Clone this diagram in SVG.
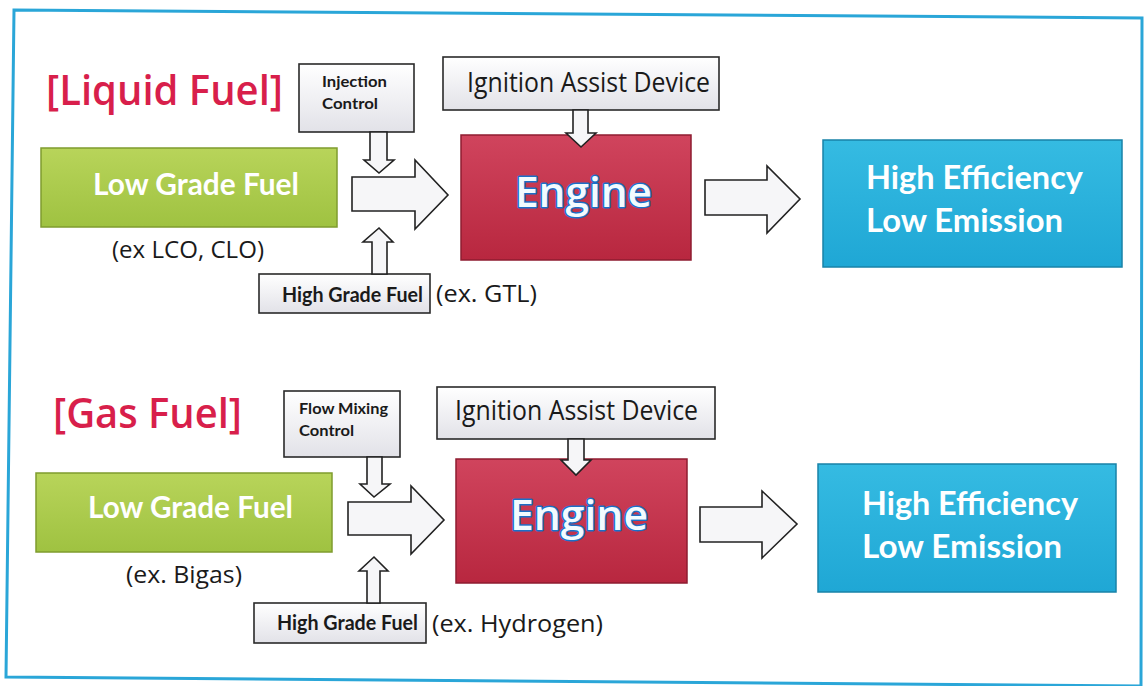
<svg xmlns="http://www.w3.org/2000/svg" width="1145" height="686" viewBox="0 0 1145 686">
<defs>
<linearGradient id="gGreen" x1="0" y1="0" x2="0" y2="1"><stop offset="0" stop-color="#b8d45a"/><stop offset="1" stop-color="#9fc241"/></linearGradient>
<linearGradient id="gRed" x1="0" y1="0" x2="0" y2="1"><stop offset="0" stop-color="#d0445d"/><stop offset="1" stop-color="#b8273f"/></linearGradient>
<linearGradient id="gBlue" x1="0" y1="0" x2="0" y2="1"><stop offset="0" stop-color="#35bbe2"/><stop offset="1" stop-color="#1fa7d5"/></linearGradient>
<linearGradient id="gGrey" x1="0" y1="0" x2="0" y2="1"><stop offset="0" stop-color="#ffffff"/><stop offset="1" stop-color="#e2e2e8"/></linearGradient>
</defs>
<style>
.lbox{fill:url(#gGrey);stroke:#2a2a2a;stroke-width:1.6}
.green{fill:url(#gGreen);stroke:#7f9c2e;stroke-width:1.5}
.red{fill:url(#gRed);stroke:#8e1c30;stroke-width:1.5}
.blue{fill:url(#gBlue);stroke:#1883a8;stroke-width:1.5}
.arr{fill:#f6f6f8;stroke:#222;stroke-width:1.6;stroke-linejoin:miter}
.title{font-family:"Open Sans",Lato,sans-serif;font-weight:600;font-size:41px;fill:#d81f4b}
.wb{font-family:Lato,"Open Sans",sans-serif;font-weight:bold;fill:#ffffff}
.dk{font-family:"Open Sans",Lato,sans-serif;fill:#1a1a1a}
.dkb{font-family:Lato,"Open Sans",sans-serif;font-weight:bold;fill:#1a1a1a}
.eng{font-family:"Open Sans",Lato,sans-serif;font-weight:600;font-size:42px;fill:#f2fbff;stroke:#1b6fc6;stroke-width:3;paint-order:stroke;stroke-linejoin:round}
</style>
<rect width="1145" height="686" fill="#ffffff"/>
<polygon points="14,10 1142,18 1141,686 6,677" fill="none" stroke="#2aa6d8" stroke-width="3"/>

<!-- Liquid fuel section -->
<text x="46" y="105" class="title" textLength="237" lengthAdjust="spacingAndGlyphs">[Liquid Fuel]</text>

<g id="lf-low">
<rect x="41" y="148" width="296" height="79" class="green"/>
<text x="93" y="195" class="wb" font-size="30" textLength="206" lengthAdjust="spacingAndGlyphs">Low Grade Fuel</text>
</g>
<text x="112" y="258" class="dk" font-size="23" textLength="152" lengthAdjust="spacingAndGlyphs">(ex LCO, CLO)</text>

<g id="lf-injection">
<rect x="299" y="64" width="115" height="68" class="lbox"/>
<text x="322" y="87" class="dkb" font-size="16" textLength="65" lengthAdjust="spacingAndGlyphs">Injection</text>
<text x="322" y="109" class="dkb" font-size="16" textLength="56" lengthAdjust="spacingAndGlyphs">Control</text>
</g>

<g id="lf-high">
<rect x="259" y="274" width="171" height="39" class="lbox"/>
<text x="282" y="302" class="dkb" font-size="20" textLength="141" lengthAdjust="spacingAndGlyphs">High Grade Fuel</text>
</g>
<text x="436" y="302" class="dk" font-size="23" textLength="101" lengthAdjust="spacingAndGlyphs">(ex. GTL)</text>

<g id="lf-ignition">
<rect x="443" y="57" width="276" height="53" class="lbox"/>
<text x="467" y="92" class="dk" font-size="27" textLength="243" lengthAdjust="spacingAndGlyphs">Ignition Assist Device</text>
</g>

<g id="lf-engine">
<rect x="461" y="135" width="230" height="125" class="red"/>
<text x="515" y="207" class="eng" textLength="137" lengthAdjust="spacingAndGlyphs">Engine</text>
</g>

<g id="lf-result">
<rect x="823" y="140" width="299" height="127" class="blue"/>
<text x="866" y="189" class="wb" font-size="33" textLength="217" lengthAdjust="spacingAndGlyphs">High Efficiency</text>
<text x="866" y="232" class="wb" font-size="33" textLength="197" lengthAdjust="spacingAndGlyphs">Low Emission</text>
</g>

<!-- Gas fuel section -->
<text x="53" y="428" class="title" textLength="189" lengthAdjust="spacingAndGlyphs">[Gas Fuel]</text>

<g id="gf-low">
<rect x="36" y="473" width="296" height="79" class="green"/>
<text x="88" y="518" class="wb" font-size="30" textLength="205" lengthAdjust="spacingAndGlyphs">Low Grade Fuel</text>
</g>
<text x="126" y="583" class="dk" font-size="23" textLength="116" lengthAdjust="spacingAndGlyphs">(ex. Bigas)</text>

<g id="gf-flow">
<rect x="284" y="391" width="116" height="66" class="lbox"/>
<text x="299" y="414" class="dkb" font-size="16" textLength="89" lengthAdjust="spacingAndGlyphs">Flow Mixing</text>
<text x="299" y="436" class="dkb" font-size="16" textLength="55" lengthAdjust="spacingAndGlyphs">Control</text>
</g>

<g id="gf-high">
<rect x="254" y="603" width="172" height="40" class="lbox"/>
<text x="277" y="630" class="dkb" font-size="20" textLength="141" lengthAdjust="spacingAndGlyphs">High Grade Fuel</text>
</g>
<text x="432" y="632" class="dk" font-size="23" textLength="171" lengthAdjust="spacingAndGlyphs">(ex. Hydrogen)</text>

<g id="gf-ignition">
<rect x="437" y="387" width="278" height="52" class="lbox"/>
<text x="455" y="420" class="dk" font-size="27" textLength="243" lengthAdjust="spacingAndGlyphs">Ignition Assist Device</text>
</g>

<g id="gf-engine">
<rect x="456" y="459" width="231" height="124" class="red"/>
<text x="510" y="530" class="eng" textLength="138" lengthAdjust="spacingAndGlyphs">Engine</text>
</g>

<g id="gf-result">
<rect x="818" y="464" width="298" height="128" class="blue"/>
<text x="862" y="515" class="wb" font-size="33" textLength="216" lengthAdjust="spacingAndGlyphs">High Efficiency</text>
<text x="862" y="558" class="wb" font-size="33" textLength="200" lengthAdjust="spacingAndGlyphs">Low Emission</text>
</g>

<g id="connectors">
<path class="arr" d="M352,177 H415 V160 L448,195 L415,229 V211 H352 Z"/>
<path class="arr" d="M370,132 H387 V160 H394 L379,173 L364,160 H370 Z"/>
<path class="arr" d="M372,274 V242 H363 L379,228 L393,242 H387 V274 Z"/>
<path class="arr" d="M573,110 H588 V133 H596 L581,147 L566,133 H573 Z"/>
<path class="arr" d="M705,180 H767 V166 L800,199 L767,233 V215 H705 Z"/>
<path class="arr" d="M348,502 H411 V486 L444,520 L411,554 V535 H348 Z"/>
<path class="arr" d="M367,457 H382 V484 H390 L374,497 L360,484 H367 Z"/>
<path class="arr" d="M367,603 V571 H359 L374,557 L388,571 H380 V603 Z"/>
<path class="arr" d="M568,439 H584 V460 H591 L576,475 L561,460 H568 Z"/>
<path class="arr" d="M700,507 H762 V491 L797,524 L762,558 V542 H700 Z"/>
</g>
</svg>
